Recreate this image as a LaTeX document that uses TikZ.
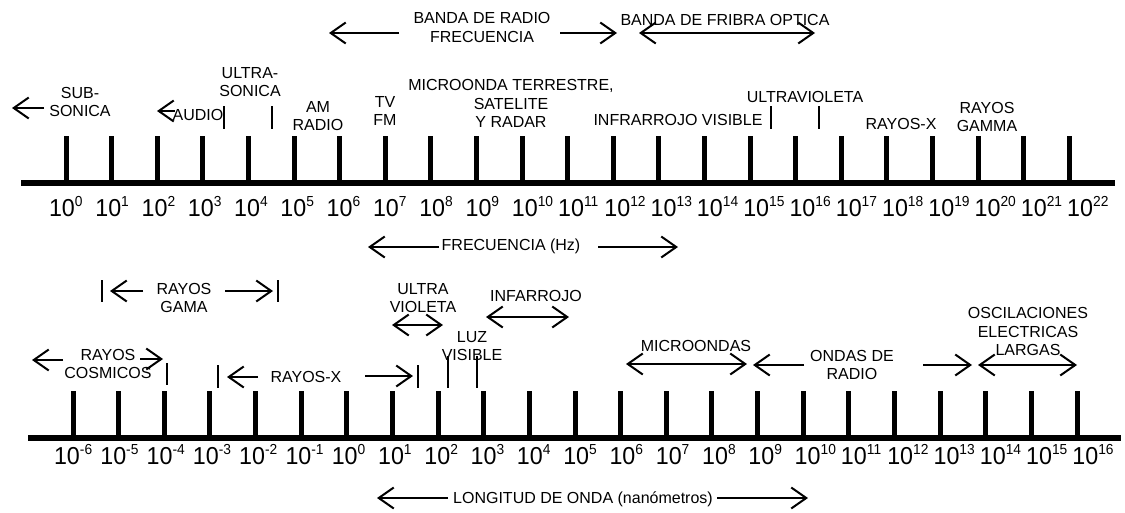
\documentclass[tikz,border=0pt]{standalone}
\usepackage{fontspec}
\setmainfont{Liberation Sans}
\usetikzlibrary{arrows.meta}
\tikzset{
  lbl/.style={font=\fontsize{16}{18.5}\selectfont, align=center, inner sep=0pt},
  num/.style={anchor=base, inner sep=0pt, font=\fontsize{24.5}{25}\selectfont},
  axisline/.style={line width=6pt},
  tickmark/.style={line width=5pt},
  bar/.style={line width=2.6pt},
  arr/.style={line width=2pt, -{Straight Barb[length=15pt,width=21pt]}},
  darr/.style={line width=2pt, {Straight Barb[length=15pt,width=21pt]}-{Straight Barb[length=15pt,width=21pt]}},
}
\newcommand\expo[1]{\scalebox{0.95}[1]{10\rlap{\raisebox{9.5pt}{\fontsize{14.5}{15}\selectfont #1}}}}
\begin{document}
\begin{tikzpicture}[x=1pt,y=-1pt]
\useasboundingbox (0,0) rectangle (1125,512);

% ---------- top axis (frequency) ----------
\coordinate (taL) at (21,183);
\coordinate (taR) at (1115,183);
\draw[axisline] (taL) -- (taR);
\foreach \i in {0,...,22} {
  \pgfmathsetmacro\xx{66+45.6*\i}
  \pgfmathsetmacro\lx{\xx-4+0.68*\i}
  \draw[tickmark] (\xx,136) -- (\xx,183);
  \node[num] (t\i) at (\lx,216) {\expo{\i}};
}

% top labels
\node[lbl] (rf) at (482,27.5) {BANDA DE RADIO\\FRECUENCIA};
\coordinate (rfa) at (399,33); \coordinate (rfb) at (329,33);
\coordinate (rfc) at (560,33); \coordinate (rfd) at (617,33);
\draw[arr] (rfa) -- (rfb);
\draw[arr] (rfc) -- (rfd);

\node[lbl] (fo) at (725,19.5) {BANDA DE FRIBRA OPTICA};
\coordinate (foa) at (639,33); \coordinate (fob) at (815,33);
\draw[darr] (foa) -- (fob);

\node[lbl] (sub) at (80,102) {SUB-\\SONICA};
\coordinate (suba) at (44,108); \coordinate (subb) at (12,108);
\draw[arr] (suba) -- (subb);

\node[lbl] (audio) at (198,115) {AUDIO};
\coordinate (aua) at (175,111); \coordinate (aub) at (157,111);
\draw[arr] (aua) -- (aub);

\node[lbl] (us) at (250,82) {ULTRA-\\SONICA};
\coordinate (usa1) at (224,106); \coordinate (usa2) at (224,129);
\coordinate (usb1) at (272,106); \coordinate (usb2) at (272,129);
\draw[bar] (usa1) -- (usa2);
\draw[bar] (usb1) -- (usb2);

\node[lbl] (am) at (318,116) {AM\\RADIO};
\node[lbl] (tv) at (385,111) {TV\\FM};
\node[lbl] (mw) at (511,103.5) {MICROONDA TERRESTRE,\\SATELITE\\Y RADAR};
\node[lbl] (ir) at (678,119.5) {INFRARROJO VISIBLE};
\node[lbl] (uv) at (805,97) {ULTRAVIOLETA};
\coordinate (uva1) at (771,106); \coordinate (uva2) at (771,129);
\coordinate (uvb1) at (819,106); \coordinate (uvb2) at (819,129);
\draw[bar] (uva1) -- (uva2);
\draw[bar] (uvb1) -- (uvb2);
\node[lbl] (rx) at (901,124) {RAYOS-X};
\node[lbl] (rg) at (987,117) {RAYOS\\GAMMA};

% frequency caption
\node[lbl] (fq) at (511,246) {FRECUENCIA (Hz)};
\coordinate (fqa) at (439,247); \coordinate (fqb) at (368,247);
\coordinate (fqc) at (598,247); \coordinate (fqd) at (678,247);
\draw[arr] (fqa) -- (fqb);
\draw[arr] (fqc) -- (fqd);

% ---------- bottom axis (wavelength) ----------
\coordinate (baL) at (28,438);
\coordinate (baR) at (1121,438);
\draw[axisline] (baL) -- (baR);
\foreach \i in {0,...,22} {
  \pgfmathsetmacro\xx{73+45.64*\i}
  \pgfmathsetmacro\lx{\xx-6+0.65*\i}
  \pgfmathtruncatemacro\e{\i-6}
  \draw[tickmark] (\xx,391) -- (\xx,438);
  \node[num] (b\i) at (\lx,464) {\expo{\e}};
}

% bottom labels
\node[lbl] (gama) at (184,298) {RAYOS\\GAMA};
\coordinate (ga1) at (102,280); \coordinate (ga2) at (102,302);
\coordinate (gb1) at (278,280); \coordinate (gb2) at (278,302);
\draw[bar] (ga1) -- (ga2);
\draw[bar] (gb1) -- (gb2);
\coordinate (gaa) at (143,291); \coordinate (gab) at (110,291);
\coordinate (gac) at (225,291); \coordinate (gad) at (273,291);
\draw[arr] (gaa) -- (gab);
\draw[arr] (gac) -- (gad);

\node[lbl] (cos) at (108,364) {RAYOS\\COSMICOS};
\coordinate (coa) at (63,360); \coordinate (cob) at (32,360);
\coordinate (coc) at (140,359); \coordinate (cod) at (163,359);
\draw[arr] (coa) -- (cob);
\draw[arr] (coc) -- (cod);
\coordinate (cobar1) at (167,363); \coordinate (cobar2) at (167,385);
\draw[bar] (cobar1) -- (cobar2);

\node[lbl] (rxb) at (306,376.5) {RAYOS-X};
\coordinate (rxbar1) at (218,365); \coordinate (rxbar2) at (218,388);
\coordinate (rxbar3) at (418,365); \coordinate (rxbar4) at (418,388);
\draw[bar] (rxbar1) -- (rxbar2);
\draw[bar] (rxbar3) -- (rxbar4);
\coordinate (rxa) at (258,377); \coordinate (rxbb) at (227,377);
\coordinate (rxc) at (365,376); \coordinate (rxd) at (413,376);
\draw[arr] (rxa) -- (rxbb);
\draw[arr] (rxc) -- (rxd);

\node[lbl] (luz) at (472,346) {LUZ\\VISIBLE};
\coordinate (lz1) at (448,356); \coordinate (lz2) at (448,388);
\coordinate (lz3) at (477,356); \coordinate (lz4) at (477,388);
\draw[bar] (lz1) -- (lz2);
\draw[bar] (lz3) -- (lz4);

\node[lbl] (uvb) at (423,298) {ULTRA\\VIOLETA};
\coordinate (uvba) at (392,325); \coordinate (uvbb) at (443,325);
\draw[darr] (uvba) -- (uvbb);

\node[lbl] (inf) at (536,296) {INFARROJO};
\coordinate (infa) at (486,317); \coordinate (infb) at (569,317);
\draw[darr] (infa) -- (infb);

\node[lbl] (mic) at (696,346) {MICROONDAS};
\coordinate (mica) at (626,364); \coordinate (micb) at (747,364);
\draw[darr] (mica) -- (micb);

\node[lbl] (odr) at (852,365) {ONDAS DE\\RADIO};
\coordinate (oda) at (804,365); \coordinate (odb) at (753,365);
\coordinate (odc) at (923,365); \coordinate (odd) at (972,365);
\draw[arr] (oda) -- (odb);
\draw[arr] (odc) -- (odd);

\node[lbl] (osc) at (1028,331.5) {OSCILACIONES\\ELECTRICAS\\LARGAS};
\coordinate (osa) at (978,365); \coordinate (osb) at (1077,365);
\draw[darr] (osa) -- (osb);

% wavelength caption
\node[lbl] (lo) at (583,499) {LONGITUD DE ONDA (nanómetros)};
\coordinate (loa) at (448,498); \coordinate (lob) at (377,498);
\coordinate (loc) at (717,498); \coordinate (lod) at (808,498);
\draw[arr] (loa) -- (lob);
\draw[arr] (loc) -- (lod);
\end{tikzpicture}
\end{document}
